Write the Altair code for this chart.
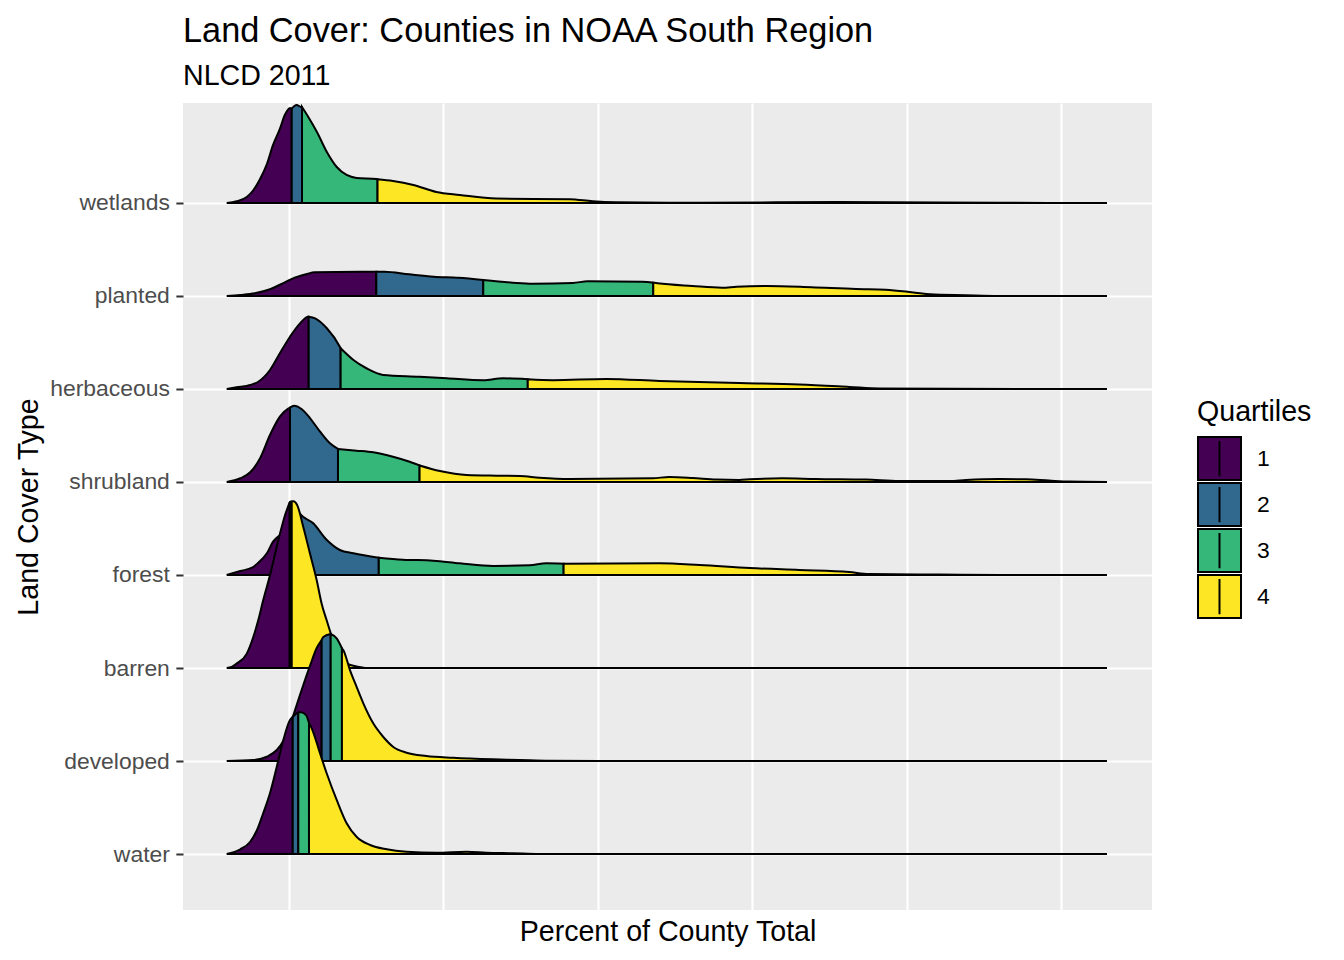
import altair as alt
import pandas as pd

# ---------------- data ----------------
CATEGORIES = ["water", "developed", "barren", "forest", "shrubland",
              "herbaceous", "planted", "wetlands"]          # bottom -> top
QUARTILES = ["1", "2", "3", "4"]
COLORS = ["#440154", "#31688E", "#35B779", "#FDE725"]
X_GRID = [0, 25, 50, 75, 100, 125]

# density curves: x (percent) and ridge height (in units of row spacing)
WETLANDS_X = [-10.0, -8.4, -6.75, -5.7, -4.6, -3.5, -2.5, -1.4, -0.6, 0.24, 1.3, 2.1, 3.2, 4.6, 6.2,
              7.8, 9.4, 11.0, 14.2, 16.9, 20.2, 23.9, 27.7, 33.6, 45.5, 49.2, 53.0, 66.5, 89.1, 115.0, 132.4]
WETLANDS_H = [0, 0.018, 0.065, 0.137, 0.258, 0.419, 0.624, 0.796, 0.946, 1.022, 1.054, 1.032, 0.925, 0.763, 0.548,
              0.387, 0.301, 0.269, 0.258, 0.237, 0.194, 0.118, 0.086, 0.047, 0.040, 0.018, 0.008, 0.003, 0.010, 0.002, 0]
WETLANDS_Q = [0.52, 2.18, 14.4]
WETLANDS_QH = [1.015, 1.032, 0.255]

PLANTED_X = [-10.0, -7.85, -5.45, -3.0, -0.6, 1.0, 3.0, 4.2, 11.4, 15.5, 19.5, 23.5, 27.5, 36.3, 39.5,
             46.0, 48.4, 57.3, 59.7, 65.3, 70.1, 72.5, 77.3, 84.6, 91.8, 96.6, 101.4, 103.8, 109.5, 114.9, 132.4]
PLANTED_H = [0, 0.011, 0.029, 0.072, 0.147, 0.197, 0.237, 0.255, 0.261, 0.261, 0.233, 0.208, 0.197, 0.143, 0.132,
             0.140, 0.158, 0.154, 0.137, 0.108, 0.089, 0.100, 0.108, 0.094, 0.075, 0.068, 0.035, 0.018, 0.008, 0, 0]
PLANTED_Q = [14.2, 31.5, 59.0]
PLANTED_QH = [0.261, 0.172, 0.143]

HERBACEOUS_X = [-10.0, -8.4, -6.2, -4.9, -3.0, -1.4, 0.24, 1.86, 3.2, 4.3, 6.2, 8.3, 10.5, 12.6, 15.3,
                21.2, 25.6, 31.5, 34.7, 42.8, 51.4, 60.0, 72.9, 82.6, 90.7, 95.6, 106.9, 132.4]
HERBACEOUS_H = [0, 0.018, 0.043, 0.078, 0.204, 0.384, 0.562, 0.706, 0.777, 0.760, 0.653, 0.455, 0.312, 0.223, 0.151,
                0.132, 0.115, 0.094, 0.115, 0.094, 0.108, 0.086, 0.065, 0.048, 0.022, 0.005, 0.002, 0]
HERBACEOUS_Q = [3.26, 8.43, 38.7]
HERBACEOUS_QH = [0.777, 0.438, 0.104]

SHRUBLAND_X = [-10.0, -7.8, -6.2, -4.6, -3.0, -1.4, 0.0, 0.9, 2.1, 3.5, 5.1, 6.7, 11.0, 13.7, 16.9,
               19.6, 24.5, 28.8, 33.6, 37.4, 40.6, 45.5, 58.9, 61.6, 65.4, 69.2, 72.9, 74.6, 79.9, 85.3,
               93.4, 98.8, 106.9, 109.6, 115.0, 119.3, 123.0, 126.3, 132.4]
SHRUBLAND_H = [0, 0.040, 0.104, 0.255, 0.505, 0.702, 0.792, 0.820, 0.785, 0.685, 0.541, 0.416, 0.337, 0.319, 0.272,
               0.218, 0.118, 0.075, 0.068, 0.065, 0.046, 0.032, 0.040, 0.054, 0.043, 0.026, 0.022, 0.029, 0.040, 0.032,
               0.026, 0.011, 0.011, 0.022, 0.032, 0.029, 0.015, 0.004, 0]
SHRUBLAND_Q = [0.24, 8.0, 21.2]
SHRUBLAND_QH = [0.80, 0.355, 0.178]

FOREST_X = [-10.0, -7.8, -5.9, -4.9, -3.5, -2.5, -1.9, -1.4, -0.6, 1.2, 1.86, 4.0, 6.2, 8.3, 10.5, 18.5,
            23.4, 27.7, 33.1, 39.0, 41.7, 60.0, 66.5, 74.6, 82.6, 90.7, 93.9, 105.3, 115.0, 132.4]
FOREST_H = [0, 0.043, 0.078, 0.132, 0.233, 0.358, 0.40, 0.43, 0.58, 0.72, 0.656, 0.556, 0.376, 0.269, 0.233, 0.165,
            0.154, 0.126, 0.097, 0.104, 0.126, 0.126, 0.108, 0.075, 0.054, 0.032, 0.011, 0.005, 0, 0]
FOREST_Q = [0.4, 14.6, 44.5]
FOREST_QH = [0.73, 0.186, 0.122]

BARREN_X = [-10.0, -9.2, -8.4, -6.75, -5.7, -4.9, -4.1, -3.0, -1.65, -0.57, 0.24, 0.78, 1.42, 2.39, 3.47,
            4.56, 5.36, 6.17, 7.2, 8.3, 9.4, 11.2, 12.8, 132.4]
BARREN_H = [0, 0.011, 0.047, 0.155, 0.333, 0.513, 0.728, 0.997, 1.373, 1.642, 1.785, 1.792, 1.749, 1.516, 1.230,
            0.943, 0.692, 0.513, 0.30, 0.12, 0.05, 0.015, 0.0, 0]
BARREN_Q = [0.19, 0.36, 0.52]
BARREN_QH = [1.78, 1.787, 1.789]

DEVELOPED_X = [-10.0, -5.7, -3.5, -1.9, -0.84, 0.24, 1.32, 2.39, 3.47, 4.56, 5.62, 7.79, 8.85, 9.94, 11.0,
               12.1, 13.7, 15.3, 16.9, 19.1, 22.3, 26.6, 33.1, 37.4, 42.2, 50.3, 132.4]
DEVELOPED_H = [0, 0.011, 0.046, 0.118, 0.215, 0.387, 0.602, 0.817, 1.022, 1.215, 1.333, 1.319, 1.194, 0.978, 0.799,
               0.620, 0.405, 0.261, 0.154, 0.089, 0.054, 0.035, 0.018, 0.011, 0.003, 0, 0]
DEVELOPED_Q = [5.36, 6.82, 8.64]
DEVELOPED_QH = [1.30, 1.366, 1.212]

WATER_X = [-10.0, -7.8, -6.2, -5.1, -4.1, -3.0, -1.9, -0.84, 0.24, 1.32, 1.97, 2.83, 3.75, 5.09, 6.17,
           7.79, 9.4, 11.0, 13.2, 15.9, 19.1, 23.9, 28.8, 32.0, 36.3, 40.6, 132.4]
WATER_H = [0, 0.051, 0.132, 0.258, 0.438, 0.653, 0.939, 1.226, 1.441, 1.513, 1.524, 1.495, 1.352, 1.083, 0.868,
           0.581, 0.330, 0.186, 0.097, 0.051, 0.025, 0.014, 0.025, 0.014, 0.008, 0, 0]
WATER_Q = [0.68, 1.58, 3.31]
WATER_QH = [1.473, 1.521, 1.41]

RIDGES = {
    "wetlands": (WETLANDS_X, WETLANDS_H, WETLANDS_Q, WETLANDS_QH),
    "planted": (PLANTED_X, PLANTED_H, PLANTED_Q, PLANTED_QH),
    "herbaceous": (HERBACEOUS_X, HERBACEOUS_H, HERBACEOUS_Q, HERBACEOUS_QH),
    "shrubland": (SHRUBLAND_X, SHRUBLAND_H, SHRUBLAND_Q, SHRUBLAND_QH),
    "forest": (FOREST_X, FOREST_H, FOREST_Q, FOREST_QH),
    "barren": (BARREN_X, BARREN_H, BARREN_Q, BARREN_QH),
    "developed": (DEVELOPED_X, DEVELOPED_H, DEVELOPED_Q, DEVELOPED_QH),
    "water": (WATER_X, WATER_H, WATER_Q, WATER_QH),
}

# ---------------- build tables ----------------
def ridge_table(name):
    xs, hs, qs, qhs = RIDGES[name]
    assert len(xs) == len(hs), name
    base = CATEGORIES.index(name)
    pts = sorted(list(zip(xs, hs)) + list(zip(qs, qhs)))
    bounds = [-1e9] + list(qs) + [1e9]
    rows = []
    for k in range(4):
        lo, hi = bounds[k], bounds[k + 1]
        for x, h in pts:
            if lo <= x <= hi:
                rows.append({"ridge": name, "quartile": QUARTILES[k], "x": x,
                             "top": base + h, "base": base})
    return pd.DataFrame(rows)

FONT = "Liberation Sans"
LABEL_EXPR = "[" + ",".join("'%s'" % c for c in CATEGORIES) + "][datum.value]"

x_enc = alt.X("x:Q",
              scale=alt.Scale(domain=[-17.07, 139.68], nice=False, zero=False),
              axis=alt.Axis(values=X_GRID, labels=False, ticks=False, domain=False,
                            grid=True, gridColor="white", gridWidth=2.2,
                            title="Percent of County Total", titleFontSize=28.6,
                            titleFont=FONT, titleFontWeight="normal", titleColor="black",
                            titleY=21, titleBaseline="middle"))
y_enc = alt.Y("top:Q",
              scale=alt.Scale(domain=[-0.602, 8.075], nice=False, zero=False),
              axis=alt.Axis(values=list(range(len(CATEGORIES))), labelExpr=LABEL_EXPR,
                            domain=False, grid=True, gridColor="white", gridWidth=2.2,
                            ticks=True, tickColor="#333333", tickSize=7.15, tickWidth=2,
                            labelFontSize=22.9, labelFont=FONT, labelColor="#4D4D4D",
                            labelPadding=6.5,
                            title="Land Cover Type", titleFontSize=28.6, titleFont=FONT,
                            titleFontWeight="normal", titleColor="black",
                            titleX=-155, titleY=403.5, titleBaseline="middle",
                            titleAlign="center", titleAngle=270))
# legend key: a filled square with a centre line (quantile line)
fill_enc = alt.Fill("quartile:N",
                    scale=alt.Scale(domain=QUARTILES, range=COLORS),
                    legend=alt.Legend(title="Quartiles", orient="none",
                                      legendX=1014, legendY=295,
                                      symbolType="M-1,-1H1V1H-1ZM0,-0.82V0.82",
                                      symbolSize=1849, symbolStrokeColor="black",
                                      symbolStrokeWidth=2, symbolOpacity=1,
                                      clipHeight=45, rowPadding=1, labelOffset=15,
                                      labelFontSize=22.9, labelFont=FONT, labelColor="black",
                                      titleFontSize=28.6, titleFont=FONT,
                                      titleFontWeight="normal", titleColor="black",
                                      titlePadding=9.5))

layers = []
for name in reversed(CATEGORIES):   # top ridge first, lower ridges drawn over it
    layers.append(
        alt.Chart(ridge_table(name)).mark_area(
            stroke="black", strokeWidth=2, interpolate="monotone", opacity=1
        ).encode(x=x_enc, y=y_enc, y2="base:Q", fill=fill_enc)
    )

chart = alt.layer(*layers).properties(
    width=969, height=807,
    autosize=alt.AutoSizeParams(type="none"),
    padding={"left": 183, "top": 103, "right": 192, "bottom": 50},
    title=alt.TitleParams(text="Land Cover: Counties in NOAA South Region",
                          subtitle="NLCD 2011", anchor="start", frame="group",
                          font=FONT, fontSize=34.3, fontWeight="normal", color="black",
                          subtitleFont=FONT, subtitleFontSize=28.6, subtitleColor="black",
                          offset=10, subtitlePadding=13),
).configure(
    background="white", font=FONT,
    view=alt.ViewConfig(fill="#EBEBEB", stroke=None),
)

chart.save("out.html", embed_options={"renderer": "svg", "actions": False})
